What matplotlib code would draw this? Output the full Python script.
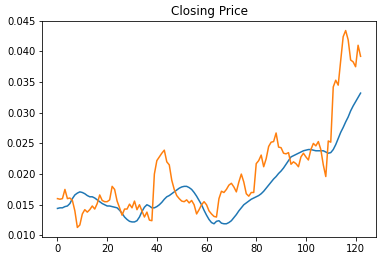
import numpy as np
import matplotlib
matplotlib.use('Agg')
import matplotlib.pyplot as plt

# closing price (orange) and its smoothed version (blue)
closing = [0.0160, 0.0159, 0.0160, 0.0175, 0.0160, 0.0161, 0.0157, 0.0140, 0.0113, 0.0117,
           0.0135, 0.0142, 0.0138, 0.0142, 0.0148, 0.0143, 0.0152, 0.0166, 0.0157, 0.0155,
           0.0155, 0.0158, 0.0180, 0.0175, 0.0156, 0.0145, 0.0133, 0.0143, 0.0143, 0.0151,
           0.0145, 0.0156, 0.0142, 0.0150, 0.0140, 0.0130, 0.0138, 0.0125, 0.0124, 0.0200,
           0.0222, 0.0228, 0.0234, 0.0239, 0.0220, 0.0215, 0.0190, 0.0175, 0.0165, 0.0160,
           0.0156, 0.0155, 0.0158, 0.0153, 0.0157, 0.0150, 0.0135, 0.0142, 0.0150, 0.0155,
           0.0150, 0.0140, 0.0135, 0.0131, 0.0130, 0.0160, 0.0172, 0.0170, 0.0175, 0.0182,
           0.0185, 0.0179, 0.0171, 0.0187, 0.0200, 0.0187, 0.0168, 0.0164, 0.0170, 0.0170,
           0.0217, 0.0222, 0.0231, 0.0212, 0.0225, 0.0245, 0.0252, 0.0253, 0.0267, 0.0244,
           0.0243, 0.0234, 0.0233, 0.0235, 0.0216, 0.0220, 0.0217, 0.0212, 0.0228, 0.0234,
           0.0228, 0.0223, 0.0240, 0.0250, 0.0246, 0.0253, 0.0240, 0.0215, 0.0196, 0.0254,
           0.0252, 0.0342, 0.0353, 0.0345, 0.0385, 0.0424, 0.0434, 0.0419, 0.0386, 0.0383,
           0.0375, 0.0410, 0.0392]

smoothed = [0.0144, 0.0145, 0.0145, 0.0147, 0.0148, 0.0152, 0.0160, 0.0166, 0.0169, 0.0171,
            0.0170, 0.0168, 0.0165, 0.0163, 0.0163, 0.0161, 0.0158, 0.0155, 0.0152, 0.0150,
            0.0148, 0.0148, 0.0147, 0.0146, 0.0145, 0.0141, 0.0136, 0.0130, 0.0126, 0.0123,
            0.0122, 0.0122, 0.0124, 0.0130, 0.0139, 0.0146, 0.0150, 0.0148, 0.0145, 0.0145,
            0.0147, 0.0150, 0.0154, 0.0159, 0.0163, 0.0165, 0.0168, 0.0171, 0.0174, 0.0177,
            0.0179, 0.0180, 0.0180, 0.0178, 0.0175, 0.0170, 0.0164, 0.0157, 0.0150, 0.0141,
            0.0133, 0.0126, 0.0121, 0.0119, 0.0123, 0.0124, 0.0120, 0.0119, 0.0119, 0.0121,
            0.0124, 0.0129, 0.0134, 0.0140, 0.0145, 0.0150, 0.0153, 0.0156, 0.0159, 0.0161,
            0.0163, 0.0165, 0.0168, 0.0172, 0.0177, 0.0182, 0.0187, 0.0192, 0.0196, 0.0201,
            0.0205, 0.0210, 0.0216, 0.0222, 0.0228, 0.0230, 0.0232, 0.0234, 0.0236, 0.0238,
            0.0239, 0.0240, 0.0240, 0.0239, 0.0238, 0.0238, 0.0238, 0.0238, 0.0236, 0.0234,
            0.0235, 0.0240, 0.0248, 0.0258, 0.0268, 0.0276, 0.0285, 0.0293, 0.0303, 0.0311,
            0.0318, 0.0325, 0.0332]

days = np.arange(len(closing))

fig, ax = plt.subplots(figsize=(383 / 72, 261 / 72), dpi=72)
fig.subplots_adjust(left=0.1105, right=0.981, bottom=0.0908, top=0.9207)

ax.plot(days, smoothed, color='tab:blue')
ax.plot(days, closing, color='tab:orange')
ax.set_title('Closing Price')

plt.savefig('out.png', dpi=72)
